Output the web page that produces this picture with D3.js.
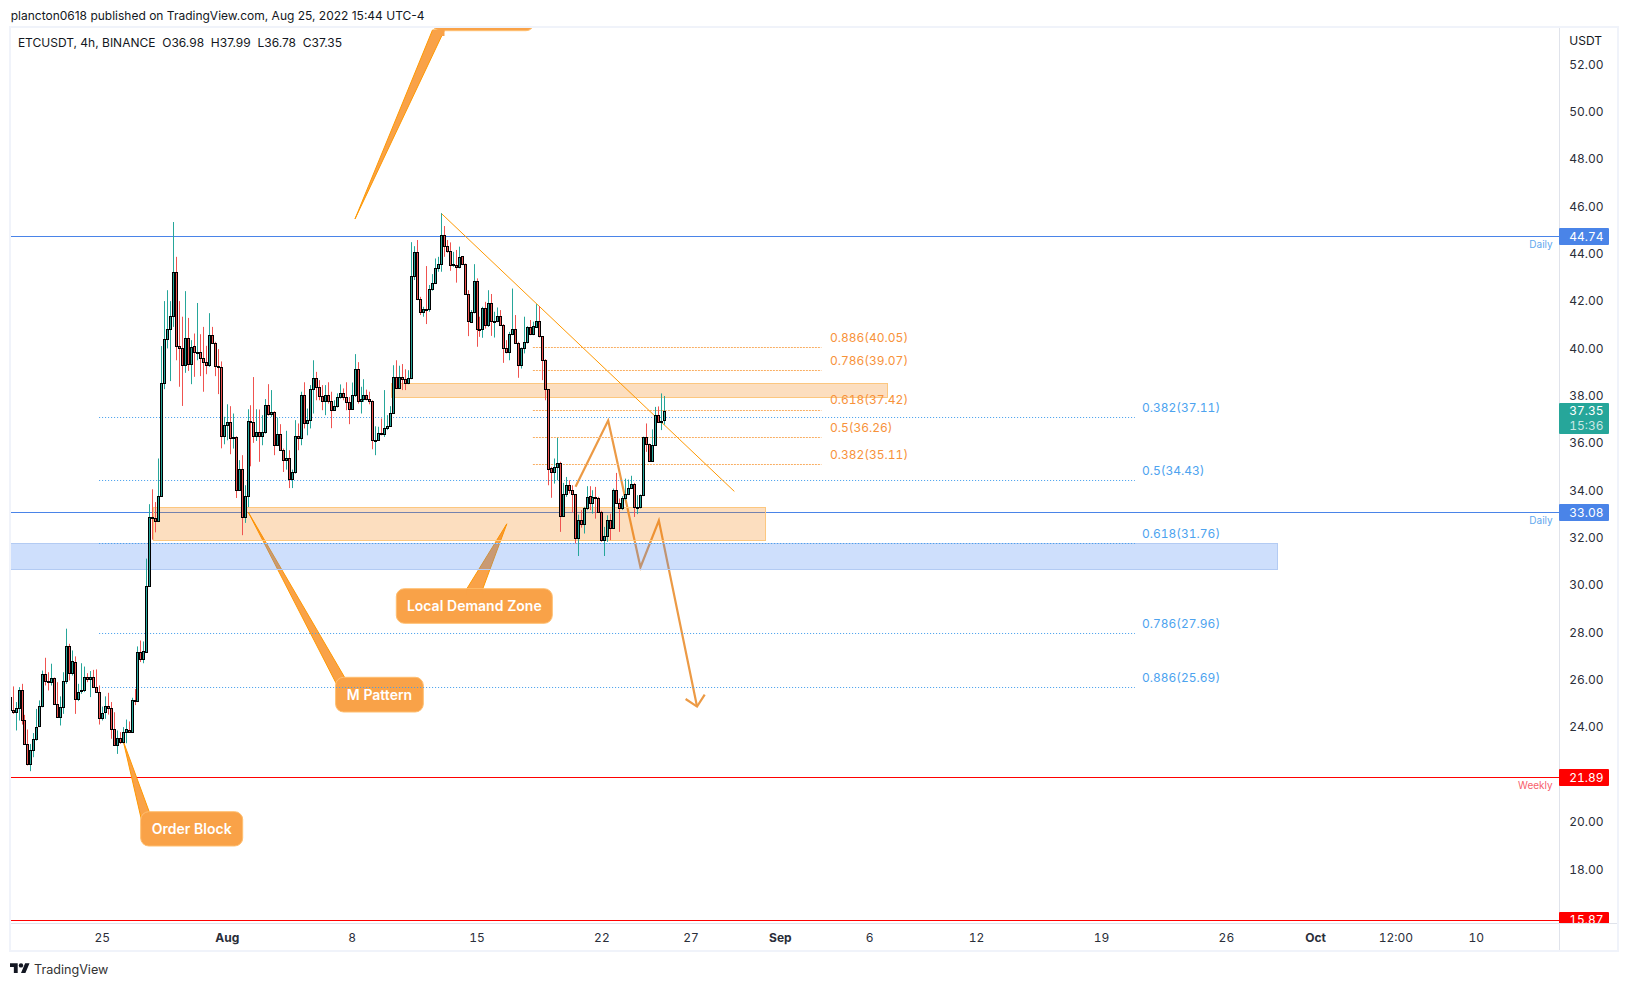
<!DOCTYPE html>
<html>
<head>
<meta charset="utf-8">
<script src="https://cdn.jsdelivr.net/npm/d3@7"></script>
<style>
  html, body { margin: 0; padding: 0; background: #fff; }
  svg { display: block; font-family: Inter, Roboto, sans-serif; font-variant-numeric: tabular-nums; }
  .plain { font-variant-numeric: normal; }
</style>
</head>
<body>
<svg id="chart" width="1629" height="986"></svg>
<script>
// ETCUSDT 4h candles
var barOpen = [
  25.27,24.73,24.65,24.82,25.58,24.31,23.29,22.45,23.04,23.51,
  24.04,24.90,26.25,25.96,25.92,26.08,24.99,24.44,24.84,25.96,
  27.44,26.30,26.76,25.20,25.51,25.56,26.11,26.04,26.11,25.70,
  25.49,24.39,24.63,24.89,24.82,23.93,23.25,23.55,23.38,23.80,
  23.87,23.80,25.15,25.11,27.18,26.89,27.18,29.95,32.89,32.84,
  32.73,33.78,38.52,40.38,40.80,41.35,43.21,40.12,40.00,39.28,
  40.46,39.36,40.12,39.83,39.86,39.58,39.43,39.28,40.55,40.25,
  39.27,39.21,36.32,36.78,36.91,36.21,36.24,34.04,34.92,32.89,
  33.78,36.95,36.91,36.28,36.49,36.32,36.45,37.63,37.22,37.33,
  35.94,36.40,35.73,35.30,35.39,34.50,34.76,36.28,36.23,38.05,
  36.83,36.97,38.27,38.76,38.39,38.00,37.80,38.05,37.80,37.42,
  37.55,37.93,38.10,37.93,37.72,37.46,38.05,39.11,37.76,37.87,
  38.05,37.88,37.80,36.12,36.15,36.43,36.39,36.62,36.73,37.28,
  38.80,38.34,38.80,38.70,38.52,38.73,43.04,44.06,42.07,41.52,
  41.65,41.65,42.49,42.75,43.38,43.55,44.78,44.31,44.10,43.52,
  43.52,43.42,43.89,43.55,42.32,41.13,41.52,42.87,40.84,40.84,
  41.69,40.97,41.90,41.14,41.17,41.39,41.01,40.00,39.87,40.59,
  40.84,40.25,39.28,40.00,40.29,40.89,40.59,40.91,41.18,40.51,
  39.53,38.27,34.93,34.76,34.99,35.18,32.90,33.83,34.21,34.00,
  33.83,31.97,32.77,32.60,33.24,33.78,33.45,33.74,33.66,33.11,
  31.92,32.09,32.77,32.43,34.04,33.49,33.24,33.70,33.87,34.12,
  34.29,33.28,33.28,33.79,36.24,35.98,35.25,35.94,37.17,36.91,36.98
];
var barHigh = [
  25.51,25.72,25.06,25.69,25.83,24.52,23.90,23.29,23.75,24.77,
  25.13,26.39,26.93,26.32,26.68,26.10,25.90,25.30,26.32,28.16,
  27.52,27.24,26.99,25.83,26.70,26.56,26.28,26.37,26.42,26.44,
  25.76,24.87,25.30,25.45,25.06,24.63,23.86,23.79,24.00,24.32,
  24.24,25.24,25.61,27.41,27.66,27.62,31.12,33.42,34.05,33.51,
  35.35,40.10,42.00,42.46,42.00,45.34,43.87,42.00,41.34,42.42,
  41.29,40.35,40.63,41.92,40.60,40.91,40.11,41.49,40.91,40.28,
  39.97,39.45,37.11,37.64,37.56,37.25,36.29,35.28,35.49,34.22,
  37.43,37.60,38.79,37.43,37.42,37.18,37.86,38.49,38.24,37.35,
  37.08,36.80,35.77,36.52,35.70,34.88,36.97,36.83,38.17,38.57,
  37.46,38.45,39.50,39.01,38.66,38.45,38.45,38.57,38.17,37.81,
  38.10,38.48,38.31,38.57,37.95,38.56,39.76,39.42,38.38,38.70,
  38.26,38.17,37.81,36.71,36.69,37.04,38.24,37.18,37.56,39.29,
  39.50,39.27,39.34,39.12,39.08,44.49,44.32,44.58,42.18,41.76,
  43.48,42.68,43.14,43.80,43.87,45.71,45.17,44.58,44.48,44.08,
  44.16,44.30,43.90,43.59,42.46,41.62,43.56,42.96,41.34,41.76,
  41.97,42.46,42.30,41.55,41.73,41.62,41.03,40.35,40.70,42.53,
  41.41,40.28,40.04,41.34,40.94,41.20,41.13,41.87,41.79,40.52,
  39.55,38.28,35.00,35.35,36.22,35.21,34.32,34.57,34.43,34.22,
  33.84,32.98,33.17,33.31,34.18,34.18,34.01,34.15,33.73,33.14,
  32.46,32.95,33.02,34.08,34.74,33.66,33.76,34.50,34.46,34.62,
  34.32,33.80,33.83,36.27,36.83,35.98,36.58,37.53,37.55,38.10,37.99
];
var barLow = [
  24.24,24.56,23.86,24.28,24.11,23.29,22.38,22.14,22.73,23.43,
  24.00,24.84,25.76,25.55,25.76,24.96,24.42,24.07,24.56,25.83,
  25.97,26.18,24.56,25.10,25.41,25.48,25.90,25.27,25.69,25.48,
  24.11,24.28,24.35,24.53,23.51,23.24,22.87,23.29,23.32,23.32,
  23.77,23.77,24.93,25.10,26.75,26.70,27.17,29.95,31.92,32.23,
  32.67,33.73,38.28,40.00,38.62,40.91,39.50,38.38,37.57,38.97,
  39.05,38.49,38.80,39.50,38.83,38.17,38.91,39.22,40.21,38.83,
  38.07,35.78,35.95,36.12,35.53,35.77,33.68,33.98,32.11,32.63,
  33.30,35.02,36.01,36.09,35.21,35.91,36.40,37.16,37.11,35.49,
  35.88,35.70,34.78,34.88,34.10,34.10,34.71,35.70,35.91,36.62,
  36.33,36.62,37.25,37.81,37.81,37.39,37.18,37.67,36.63,37.36,
  37.50,37.88,37.81,37.39,36.80,37.42,37.95,37.67,37.25,37.74,
  37.81,37.64,35.74,35.49,36.09,36.33,36.26,36.55,36.69,37.25,
  38.29,38.31,38.24,38.24,38.49,38.70,42.89,42.04,41.41,41.34,
  41.03,41.55,42.44,42.72,43.24,43.24,43.87,44.04,43.28,43.45,
  42.78,43.38,43.52,42.30,40.52,41.08,41.48,40.07,40.49,40.45,
  40.84,40.91,40.53,40.46,41.11,40.98,39.39,39.79,39.50,40.56,
  40.24,38.76,39.15,39.79,40.21,40.56,40.56,40.89,40.46,38.66,
  37.81,34.22,33.69,34.29,34.43,32.25,32.88,33.73,33.87,33.07,
  31.76,31.23,32.43,32.18,33.17,33.17,33.02,32.81,33.08,31.83,
  31.23,31.83,31.90,32.39,33.45,32.25,33.17,33.59,33.84,34.08,
  32.88,33.00,33.24,33.76,35.63,35.21,35.21,35.91,36.90,36.55,36.78
];
var barClose = [
  24.73,24.65,24.82,25.58,24.31,23.29,22.45,23.04,23.51,24.01,
  24.90,26.25,25.96,25.92,26.08,24.99,24.44,24.84,25.96,27.44,
  26.30,26.80,25.20,25.49,25.56,26.11,26.04,26.11,25.70,25.49,
  24.39,24.60,24.89,24.82,23.93,23.25,23.55,23.38,23.80,23.91,
  23.80,25.15,25.11,27.18,26.89,27.21,29.95,32.89,32.84,32.73,
  33.78,38.52,40.38,40.80,41.35,43.25,40.12,40.00,39.28,40.46,
  39.36,40.08,39.83,39.86,39.58,39.43,39.28,40.55,40.25,39.27,
  39.21,36.32,36.78,36.91,36.21,36.24,34.04,34.92,32.89,33.78,
  36.95,36.91,36.28,36.49,36.32,36.45,37.63,37.22,37.33,35.94,
  36.40,35.73,35.30,35.39,34.50,34.76,36.28,36.23,38.05,36.83,
  36.97,38.27,38.76,38.39,38.00,37.80,38.05,37.80,37.42,37.55,
  37.93,38.10,37.93,37.72,37.46,38.05,39.11,37.76,37.87,38.05,
  37.88,37.80,36.12,36.15,36.43,36.39,36.62,36.73,37.28,38.80,
  38.34,38.80,38.70,38.52,38.73,43.04,44.06,42.07,41.52,41.65,
  41.62,42.49,42.75,43.38,43.55,44.78,44.31,44.10,43.52,43.55,
  43.42,43.85,43.55,42.32,41.18,41.52,42.87,40.84,40.82,41.69,
  40.97,41.90,41.14,41.17,41.39,41.01,40.00,39.87,40.59,40.84,
  40.25,39.32,40.00,40.29,40.89,40.59,40.94,41.18,40.51,39.53,
  38.27,34.92,34.76,34.99,35.18,32.90,33.83,34.21,34.00,33.83,
  31.97,32.77,32.60,33.24,33.74,33.45,33.74,33.66,33.11,31.92,
  32.09,32.77,32.43,34.04,33.49,33.24,33.70,33.87,34.12,34.29,
  33.28,33.32,33.79,36.24,35.98,35.25,35.90,37.17,36.91,36.95,37.35
];

// axes
var priceTicks = [52,50,48,46,44,42,40,38,36,34,32,30,28,26,24,20,18];
var timeTickDays = [-7,0,7,14,21,26,31,36,42,49,56,61,65.5,70]; // days from Aug 1
var timeTickLabels = ["25","Aug","8","15","22","27","Sep","6","12","19","26","Oct","12:00","10"];

// horizontal levels
var levelPrices = [44.74,33.08,21.89,15.87];
var levelNames = ["Daily","Daily","Weekly",""];

// fib levels
var fibBlueRatio = ["0.382","0.5","0.618","0.786","0.886"];
var fibBluePrice = [37.11,34.43,31.76,27.96,25.69];
var fibOrangeRatio = ["0.886","0.786","0.618","0.5","0.382"];
var fibOrangePrice = [40.05,39.07,37.42,36.26,35.11];

// drawings, [days from Aug 1, price]
var demandZone = [[-4.11,33.29],[30.2,31.91]];
var supplyZone = [[9.2,38.56],[37.02,37.95]];
var blueZone = [[-13,31.79],[58.85,30.70]];
var trendLine = [[12.02,45.71],[28.45,33.96]];
var projection = [[19.55,34.16],[21.38,36.95],[23.19,30.76],[24.22,32.73],[26.36,24.87]];
var arrowHead = [[25.72,25.19],[26.36,24.87],[26.79,25.37]];
var fibBlueSpan = [-7.15,50.9];
var fibOrangeSpan = [17.16,33.33];

var svg = d3.select("#chart");
var paneLeft = 11, paneRight = 1559, paneTop = 28, paneBottom = 923;

function day(d) { return new Date(Date.UTC(2022, 7, 1) + d * 86400000); }

var x = d3.scaleUtc().domain([day(0), day(7)]).range([226.7, 351.6]);
var y = d3.scaleLinear().domain([52, 16]).range([64.4, 916.5]);

function px(p) { return x(day(p[0])); }
function py(p) { return y(p[1]); }
var pointLine = d3.line().x(px).y(py);

svg.append("clipPath").attr("id", "pane")
  .append("rect")
  .attr("x", paneLeft).attr("y", paneTop)
  .attr("width", paneRight - paneLeft).attr("height", paneBottom - paneTop);

// frame
svg.append("rect")
  .attr("x", 10).attr("y", 27).attr("width", 1608).attr("height", 924)
  .attr("fill", "#fff").attr("stroke", "#f0f3fa").attr("stroke-width", 2);

var pane = svg.append("g").attr("clip-path", "url(#pane)");

// level lines
var levelColor = ["#4a84e8", "#4a84e8", "#ff0000", "#ff0000"];
pane.selectAll(".level")
  .data(levelPrices)
  .enter().append("line")
  .attr("class", "level")
  .attr("x1", paneLeft).attr("x2", paneRight)
  .attr("y1", function (d) { return Math.round(y(d)) + 0.5; })
  .attr("y2", function (d) { return Math.round(y(d)) + 0.5; })
  .attr("stroke", function (d, i) { return levelColor[i]; });

// callouts sit under the zones
function callout(label, tip, box, baseA, baseB) {
  var tx = px(tip), ty = py(tip);
  var g = pane.append("g");
  g.append("path")
    .attr("d", "M" + baseA[0] + "," + baseA[1] + "L" + tx + "," + ty + "L" + baseB[0] + "," + baseB[1] + "Z")
    .attr("fill", "#f9a248").attr("stroke", "#ff9800").attr("stroke-width", 1);
  g.append("rect")
    .attr("x", box.x).attr("y", box.y).attr("width", box.w).attr("height", box.h)
    .attr("rx", 8)
    .attr("fill", "#f9a248").attr("stroke", "#ffbf70").attr("stroke-width", 1);
  g.append("path")
    .attr("d", "M" + baseA[0] + "," + baseA[1] + "L" + baseB[0] + "," + baseB[1] + "L" + baseB[0] + "," + (baseB[1] + 6) + "L" + baseA[0] + "," + (baseA[1] + 6) + "Z")
    .attr("fill", "#f9a248");
  if (label) {
    g.append("text")
      .attr("x", box.x + box.w / 2).attr("y", box.y + box.h / 2 + 5)
      .attr("text-anchor", "middle")
      .attr("font-size", 14).attr("font-weight", 600)
      .attr("fill", "#fff")
      .text(label);
  }
}

callout("Order Block", [-5.79, 23.39], { x: 140.7, y: 811.7, w: 102, h: 34.3 }, [141.5, 820], [149.3, 812]);
callout("M Pattern", [1.21, 33.08], { x: 335.6, y: 677.3, w: 87.7, h: 34.7 }, [336.5, 684], [345, 678]);
callout("Local Demand Zone", [15.7, 32.59], { x: 396.3, y: 588.7, w: 156, h: 34.6 }, [466.7, 589], [482.7, 589]);
callout("", [7.19, 45.47], { x: 432, y: -4, w: 102, h: 34.7 }, [432.5, 30], [444.5, 30]);

// pattern and arrow
pane.append("path").datum(projection)
  .attr("d", pointLine)
  .attr("fill", "none").attr("stroke", "#ec9a45").attr("stroke-width", 2.2);
pane.append("path").datum(arrowHead)
  .attr("d", pointLine)
  .attr("fill", "none").attr("stroke", "#ec9a45").attr("stroke-width", 2.2);

// zones
function zone(z, fill, edge) {
  pane.append("rect")
    .attr("x", Math.round(px(z[0])) + 0.5)
    .attr("y", Math.round(py(z[0])) + 0.5)
    .attr("width", Math.round(px(z[1]) - px(z[0])))
    .attr("height", Math.round(py(z[1]) - py(z[0])))
    .attr("fill", fill).attr("stroke", edge);
}
zone(blueZone, "rgba(66,133,244,0.26)", "#b3cbf3");
zone(demandZone, "rgba(245,124,0,0.25)", "#fcc77f");
zone(supplyZone, "rgba(245,124,0,0.25)", "#fcc77f");

// fib levels
pane.selectAll(".fibBlue")
  .data(fibBluePrice)
  .enter().append("line")
  .attr("class", "fibBlue")
  .attr("x1", x(day(fibBlueSpan[0]))).attr("x2", x(day(fibBlueSpan[1])))
  .attr("y1", function (d) { return Math.round(y(d)) + 0.5; })
  .attr("y2", function (d) { return Math.round(y(d)) + 0.5; })
  .attr("stroke", "#3f9cec").attr("stroke-dasharray", "1 2");
pane.selectAll(".fibBlueLabel")
  .data(fibBluePrice)
  .enter().append("text")
  .attr("class", "fibBlueLabel")
  .attr("x", 1142)
  .attr("y", function (d) { return y(d) - 5.2; })
  .attr("font-size", 12).attr("fill", "#4da3ef")
  .text(function (d, i) { return fibBlueRatio[i] + "(" + d.toFixed(2) + ")"; });

pane.selectAll(".fibOrange")
  .data(fibOrangePrice)
  .enter().append("line")
  .attr("class", "fibOrange")
  .attr("x1", x(day(fibOrangeSpan[0]))).attr("x2", x(day(fibOrangeSpan[1])))
  .attr("y1", function (d) { return Math.round(y(d)) + 0.5; })
  .attr("y2", function (d) { return Math.round(y(d)) + 0.5; })
  .attr("stroke", "#f9ae62").attr("stroke-dasharray", "2 1");
pane.selectAll(".fibOrangeLabel")
  .data(fibOrangePrice)
  .enter().append("text")
  .attr("class", "fibOrangeLabel")
  .attr("x", 830)
  .attr("y", function (d) { return y(d) - 5.4; })
  .attr("font-size", 12).attr("fill", "#f7923a")
  .text(function (d, i) { return fibOrangeRatio[i] + "(" + d.toFixed(2) + ")"; });

// trend line
pane.append("path").datum(trendLine)
  .attr("d", pointLine)
  .attr("fill", "none").attr("stroke", "#ff9800").attr("stroke-width", 1);

// candles: last bar is Aug 25 12:00, one bar every 4h
var bars = barOpen.map(function (o, i) {
  return {
    open: o, high: barHigh[i], low: barLow[i], close: barClose[i],
    col: Math.round(x(day(24.5 - (barOpen.length - 1 - i) / 6)))
  };
});
function barColor(d) { return d.close >= d.open ? "#26a69a" : "#ef5350"; }

pane.selectAll(".wick")
  .data(bars)
  .enter().append("line")
  .attr("class", "wick")
  .attr("x1", function (d) { return d.col + 0.5; })
  .attr("x2", function (d) { return d.col + 0.5; })
  .attr("y1", function (d) { return y(d.high); })
  .attr("y2", function (d) { return y(d.low); })
  .attr("stroke", barColor);

pane.selectAll(".body")
  .data(bars)
  .enter().append("rect")
  .attr("class", "body")
  .attr("x", function (d) { return d.col - 0.5; })
  .attr("width", 2)
  .attr("y", function (d) { return Math.round(y(Math.max(d.open, d.close))) + 0.5; })
  .attr("height", function (d) {
    return Math.max(1, Math.round(y(Math.min(d.open, d.close))) - Math.round(y(Math.max(d.open, d.close))));
  })
  .attr("fill", barColor)
  .attr("stroke", "#000");

// level names
pane.selectAll(".levelName")
  .data(levelNames)
  .enter().append("text")
  .attr("class", "levelName")
  .attr("x", 1552.7)
  .attr("y", function (d, i) { return y(levelPrices[i]) + 12; })
  .attr("text-anchor", "end")
  .attr("font-size", 10)
  .attr("fill", function (d, i) { return i < 2 ? "#5fa8ee" : "#f7606c"; })
  .text(function (d) { return d; });

// separators
svg.append("line").attr("x1", 1559.5).attr("x2", 1559.5).attr("y1", 28).attr("y2", 950).attr("stroke", "#e0e3eb");
svg.append("line").attr("x1", 11).attr("x2", 1617).attr("y1", 923.5).attr("y2", 923.5).attr("stroke", "#e0e3eb");

// price axis
var priceAxis = d3.axisRight(y)
  .tickValues(priceTicks)
  .tickFormat(d3.format(".2f"))
  .tickSize(0).tickPadding(0);
var priceG = svg.append("g")
  .attr("transform", "translate(1569.3,0)")
  .call(priceAxis);
priceG.select(".domain").remove();
priceG.selectAll("text")
  .attr("font-family", "Inter, Roboto, sans-serif")
  .attr("font-size", 12).attr("fill", "#2a2e39");

svg.append("text").attr("x", 1569.3).attr("y", 45)
  .attr("font-size", 12).attr("fill", "#131722").text("USDT");

// time axis
var timeAxis = d3.axisBottom(x)
  .tickValues(timeTickDays.map(day))
  .tickFormat(function (d, i) { return timeTickLabels[i]; })
  .tickSize(0).tickPadding(10.7);
var timeG = svg.append("g")
  .attr("transform", "translate(0,923)")
  .call(timeAxis);
timeG.select(".domain").remove();
timeG.selectAll("text")
  .attr("font-family", "Inter, Roboto, sans-serif")
  .attr("font-size", 12).attr("fill", "#2a2e39")
  .attr("font-weight", function (d, i) {
    return /[A-Z]/.test(timeTickLabels[i]) ? 700 : 400;
  });

// price tags on the axis
var tagColor = ["#4a84e8", "#4a84e8", "#ff0000", "#ff0000"];
var tags = svg.append("g").append("svg").attr("x", 0).attr("y", 0).attr("width", 1629).attr("height", 923);
tags.selectAll(".tagBox")
  .data(levelPrices)
  .enter().append("rect")
  .attr("class", "tagBox")
  .attr("x", 1559).attr("width", 50).attr("height", 17)
  .attr("y", function (d) { return Math.round(y(d)) - 8; })
  .attr("rx", 1)
  .attr("fill", function (d, i) { return tagColor[i]; });
tags.selectAll(".tagText")
  .data(levelPrices)
  .enter().append("text")
  .attr("class", "tagText")
  .attr("x", 1569.3)
  .attr("y", function (d) { return y(d) + 4.8; })
  .attr("font-size", 12).attr("fill", "#fff")
  .text(function (d) { return d.toFixed(2); });

// last price tag
var lastClose = barClose[barClose.length - 1];
svg.append("rect")
  .attr("x", 1559).attr("width", 50).attr("height", 31)
  .attr("y", Math.round(y(lastClose)) - 8).attr("rx", 1)
  .attr("fill", "#26a69a");
svg.append("text").attr("x", 1569.3).attr("y", y(lastClose) + 4.3)
  .attr("font-size", 12).attr("fill", "#fff").text(lastClose.toFixed(2));
svg.append("text").attr("x", 1569.3).attr("y", y(lastClose) + 18.6)
  .attr("font-size", 12).attr("fill", "#fff").attr("fill-opacity", 0.75).text("15:36");

// header and legend
svg.append("text").attr("class", "plain").attr("x", 10.7).attr("y", 20)
  .attr("font-size", 12).attr("fill", "#131722")
  .text("plancton0618 published on TradingView.com, Aug 25, 2022 15:44 UTC-4");
svg.append("text").attr("class", "plain").attr("x", 17.9).attr("y", 47)
  .attr("font-size", 12).attr("fill", "#131722").attr("xml:space", "preserve")
  .text("ETCUSDT, 4h, BINANCE  O36.98  H37.99  L36.78  C37.35");

// footer logo
svg.append("path")
  .attr("transform", "translate(10,961) scale(0.55)")
  .attr("fill", "#131722")
  .attr("d", "M14 22H7V11H0V4h14v18zM28 22h-8l7.5-18h8L28 22z");
svg.append("circle")
  .attr("cx", 10 + 20 * 0.55).attr("cy", 961 + 8 * 0.55).attr("r", 4 * 0.55)
  .attr("fill", "#131722");
svg.append("text").attr("x", 34).attr("y", 974)
  .attr("font-size", 12.6).attr("fill", "#333").text("TradingView");
</script>
</body>
</html>
